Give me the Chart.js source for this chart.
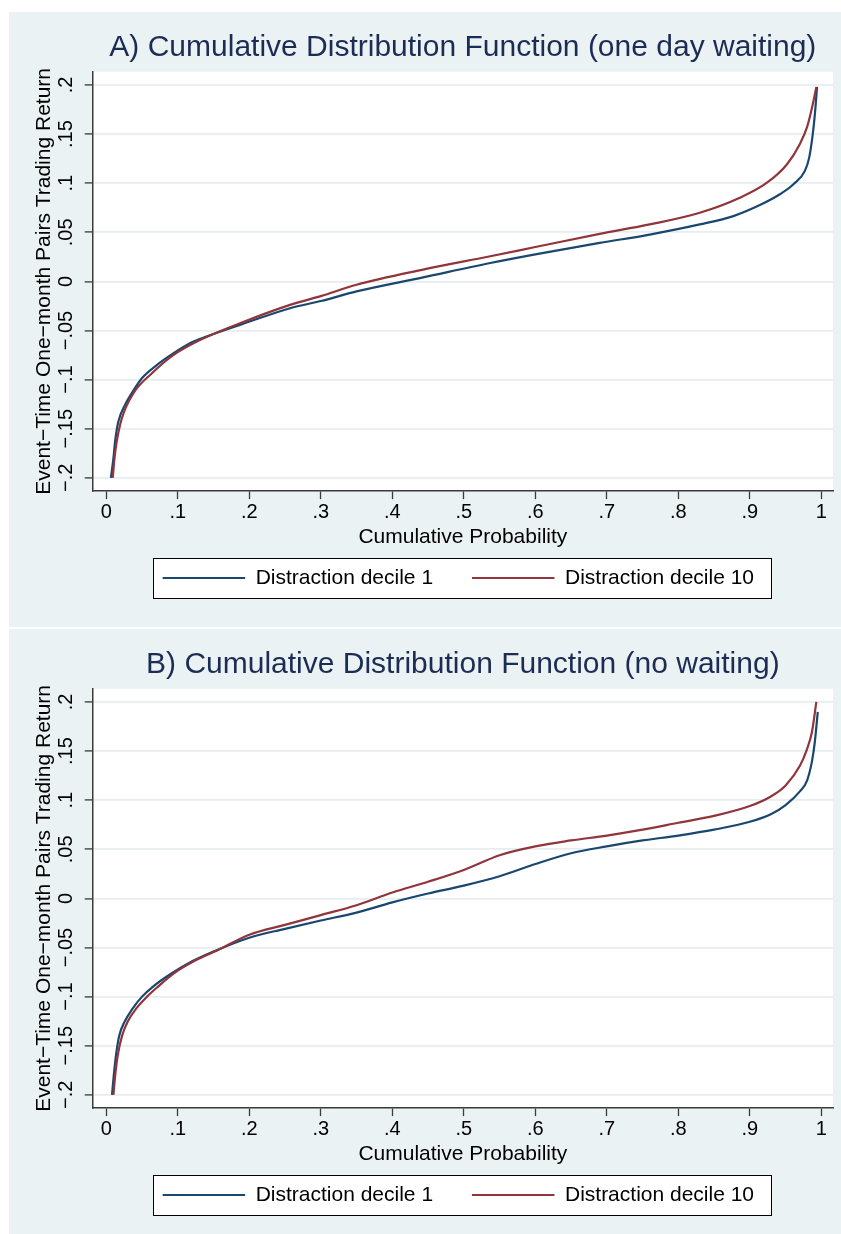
<!DOCTYPE html>
<html><head><meta charset="utf-8">
<script src="https://cdn.jsdelivr.net/npm/chart.js@4.4.1/dist/chart.umd.min.js"></script>
<style>
html,body{margin:0;padding:0;background:#fff;overflow:hidden;width:841px;height:1234px;}
.panel{position:absolute;left:9px;width:832px;height:615px;background:#eaf2f3;}
#pa{top:12px;} #pb{top:629px;}
canvas{display:block;}
</style></head><body>
<div class="panel" id="pa"><canvas id="ca" width="832" height="615"></canvas></div>
<div class="panel" id="pb"><canvas id="cb" width="832" height="615"></canvas></div>
<script>
// ---- data ----
const xTickValues = [0,0.1,0.2,0.3,0.4,0.5,0.6,0.7,0.8,0.9,1];
const xTickLabels = ['0','.1','.2','.3','.4','.5','.6','.7','.8','.9','1'];
const yTickValues = [-0.2,-0.15,-0.1,-0.05,0,0.05,0.1,0.15,0.2];
const yTickLabels = ['\u2212.2','\u2212.15','\u2212.1','\u2212.05','0','.05','.1','.15','.2'];
const seriesNames = ['Distraction decile 1','Distraction decile 10'];
const panelTitles = ['A) Cumulative Distribution Function (one day waiting)','B) Cumulative Distribution Function (no waiting)'];
const xTitle = 'Cumulative Probability';
const yTitle = 'Event\u2212Time One\u2212month Pairs Trading Return';

// Panel A, decile 1
const pA1 = [0.0065,0.010,0.0122,0.0168,0.026,0.0355,0.0495,0.0705,0.0937,0.117,0.140,0.187,0.257,0.300,0.350,0.443,0.537,0.600,0.690,0.760,0.830,0.877,0.914,0.942,0.961,0.977,0.983,0.988,0.991,0.994];
const rA1 = [-0.200,-0.180,-0.1636,-0.143,-0.126,-0.114,-0.0988,-0.0852,-0.0733,-0.063,-0.0562,-0.0443,-0.0273,-0.020,-0.0102,0.0041,0.0187,0.0275,0.0392,0.0477,0.058,0.0665,0.0777,0.0887,0.0989,0.1125,0.126,0.150,0.1705,0.198];
// Panel A, decile 10
const pA10 = [0.009,0.0115,0.0145,0.0215,0.0378,0.0635,0.0937,0.131,0.187,0.257,0.300,0.350,0.443,0.537,0.600,0.690,0.760,0.830,0.886,0.924,0.952,0.970,0.980,0.987,0.993];
const rA10 = [-0.200,-0.180,-0.1636,-0.140,-0.114,-0.0937,-0.075,-0.0597,-0.0426,-0.0239,-0.015,-0.0034,0.012,0.0256,0.035,0.0484,0.058,0.0699,0.0852,0.1005,0.1193,0.140,0.157,0.177,0.198];
// Panel B, decile 1
const pB1 = [0.008,0.0105,0.0135,0.018,0.026,0.036,0.050,0.065,0.090,0.120,0.150,0.200,0.250,0.300,0.350,0.400,0.450,0.500,0.550,0.600,0.650,0.700,0.750,0.800,0.850,0.900,0.930,0.950,0.970,0.980,0.987,0.991,0.995];
const rB1 = [-0.200,-0.180,-0.160,-0.140,-0.125,-0.113,-0.100,-0.090,-0.077,-0.064,-0.054,-0.040,-0.031,-0.0225,-0.0145,-0.004,0.005,0.013,0.0225,0.035,0.046,0.053,0.059,0.064,0.070,0.078,0.086,0.095,0.109,0.120,0.140,0.160,0.190];
// Panel B, decile 10
const pB10 = [0.010,0.0125,0.016,0.022,0.031,0.042,0.057,0.072,0.095,0.125,0.155,0.200,0.250,0.300,0.350,0.400,0.450,0.500,0.550,0.600,0.650,0.700,0.750,0.800,0.850,0.900,0.930,0.950,0.970,0.980,0.987,0.993];
const rB10 = [-0.200,-0.180,-0.160,-0.140,-0.124,-0.112,-0.100,-0.090,-0.076,-0.063,-0.053,-0.037,-0.027,-0.017,-0.007,0.006,0.017,0.029,0.044,0.053,0.059,0.064,0.070,0.077,0.084,0.094,0.104,0.115,0.135,0.152,0.170,0.200];

// ---- style ----
const FONT = "'Liberation Sans', Arial, Helvetica, sans-serif";
const BLUE = '#1a476f', RED = '#90353b';
const AXIS = '#3a3a3a', GRID = '#e6eef0';

const bgPlugin = {
  id: 'bg',
  afterLayout(chart) {
    // Stata centres the key block slightly left of the plot centre
    chart.legend.left -= 4.5;
    chart.legend.right -= 4.5;
  },
  beforeDraw(chart) {
    const {ctx, chartArea: a} = chart;
    ctx.save();
    ctx.fillStyle = '#ffffff';
    ctx.fillRect(a.left, a.top, a.right - a.left, a.bottom - a.top);
    const hb = chart.legend && chart.legend.legendHitBoxes;
    if (hb && hb.length) {
      const l = hb[0].left - 9.5;
      const r = hb[hb.length-1].left + hb[hb.length-1].width + 17;
      const cy = hb[0].top + hb[0].height / 2;
      ctx.fillRect(l, cy - 20, r - l, 40);
      ctx.strokeStyle = '#000';
      ctx.lineWidth = 1;
      ctx.strokeRect(Math.round(l) + 0.5, Math.round(cy - 20) + 0.5, Math.round(r - l), 40);
    }
    ctx.restore();
  }
};

function pts(p, r) { return p.map((v, i) => ({x: v, y: r[i]})); }

function makeChart(id, title, p1, r1, p10, r10) {
  return new Chart(document.getElementById(id), {
    type: 'line',
    data: {
      datasets: [
        {label: seriesNames[0], data: pts(p1, r1), borderColor: BLUE, backgroundColor: BLUE, borderWidth: 2.2, pointRadius: 0, cubicInterpolationMode: 'monotone', order: 1},
        {label: seriesNames[1], data: pts(p10, r10), borderColor: RED, backgroundColor: RED, borderWidth: 2.2, pointRadius: 0, cubicInterpolationMode: 'monotone', order: 0}
      ]
    },
    options: {
      responsive: false,
      animation: false,
      devicePixelRatio: 1,
      layout: {padding: {top: 0, left: 0, right: 8, bottom: 28.5}},
      plugins: {
        tooltip: {enabled: false},
        title: {display: true, text: title, color: '#1c2c55', fullSize: false,
                font: {family: FONT, size: 30, weight: 'normal', lineHeight: 1.2},
                padding: {top: 17.6, bottom: 6.1}},
        legend: {position: 'bottom', fullSize: false,
                 labels: {boxWidth: 82.5, boxHeight: 0, padding: 38.9, color: '#000',
                          font: {family: FONT, size: 21},
                          sort: (a, b) => a.datasetIndex - b.datasetIndex}}
      },
      scales: {
        x: {type: 'linear', min: -0.019, max: 1.0163,
            afterBuildTicks: s => { s.ticks = xTickValues.map(v => ({value: v})); },
            afterFit: s => { s.height = 37.5; },
            ticks: {autoSkip: false, maxRotation: 0, minRotation: 0, padding: 1.4, color: '#000',
                    font: {family: FONT, size: 20},
                    callback: (v, i) => xTickLabels[i]},
            grid: {drawOnChartArea: false, drawTicks: true, tickLength: 8, tickColor: AXIS, tickWidth: 1.3},
            border: {display: true, color: AXIS, width: 1.5},
            title: {display: true, text: xTitle, color: '#000', font: {family: FONT, size: 21}, padding: {top: 0, bottom: -20.8}}},
        y: {type: 'linear', min: -0.2135, max: 0.2135,
            afterBuildTicks: s => { s.ticks = yTickValues.map(v => ({value: v})); },
            afterFit: s => { s.width = 83.7; },
            ticks: {autoSkip: false, minRotation: 90, maxRotation: 90, crossAlign: 'center', padding: -1.4, color: '#000',
                    font: {family: FONT, size: 20},
                    callback: (v, i) => yTickLabels[i]},
            grid: {color: GRID, lineWidth: 1.8, drawTicks: true, tickLength: 8, tickColor: AXIS, tickWidth: 1.3},
            border: {display: true, color: AXIS, width: 1.5},
            title: {display: true, text: yTitle, color: '#000', font: {family: FONT, size: 21}, padding: {top: 22.8, bottom: 0}}}
      }
    },
    plugins: [bgPlugin]
  });
}

makeChart('ca', panelTitles[0], pA1, rA1, pA10, rA10);
makeChart('cb', panelTitles[1], pB1, rB1, pB10, rB10);
</script>
</body></html>
